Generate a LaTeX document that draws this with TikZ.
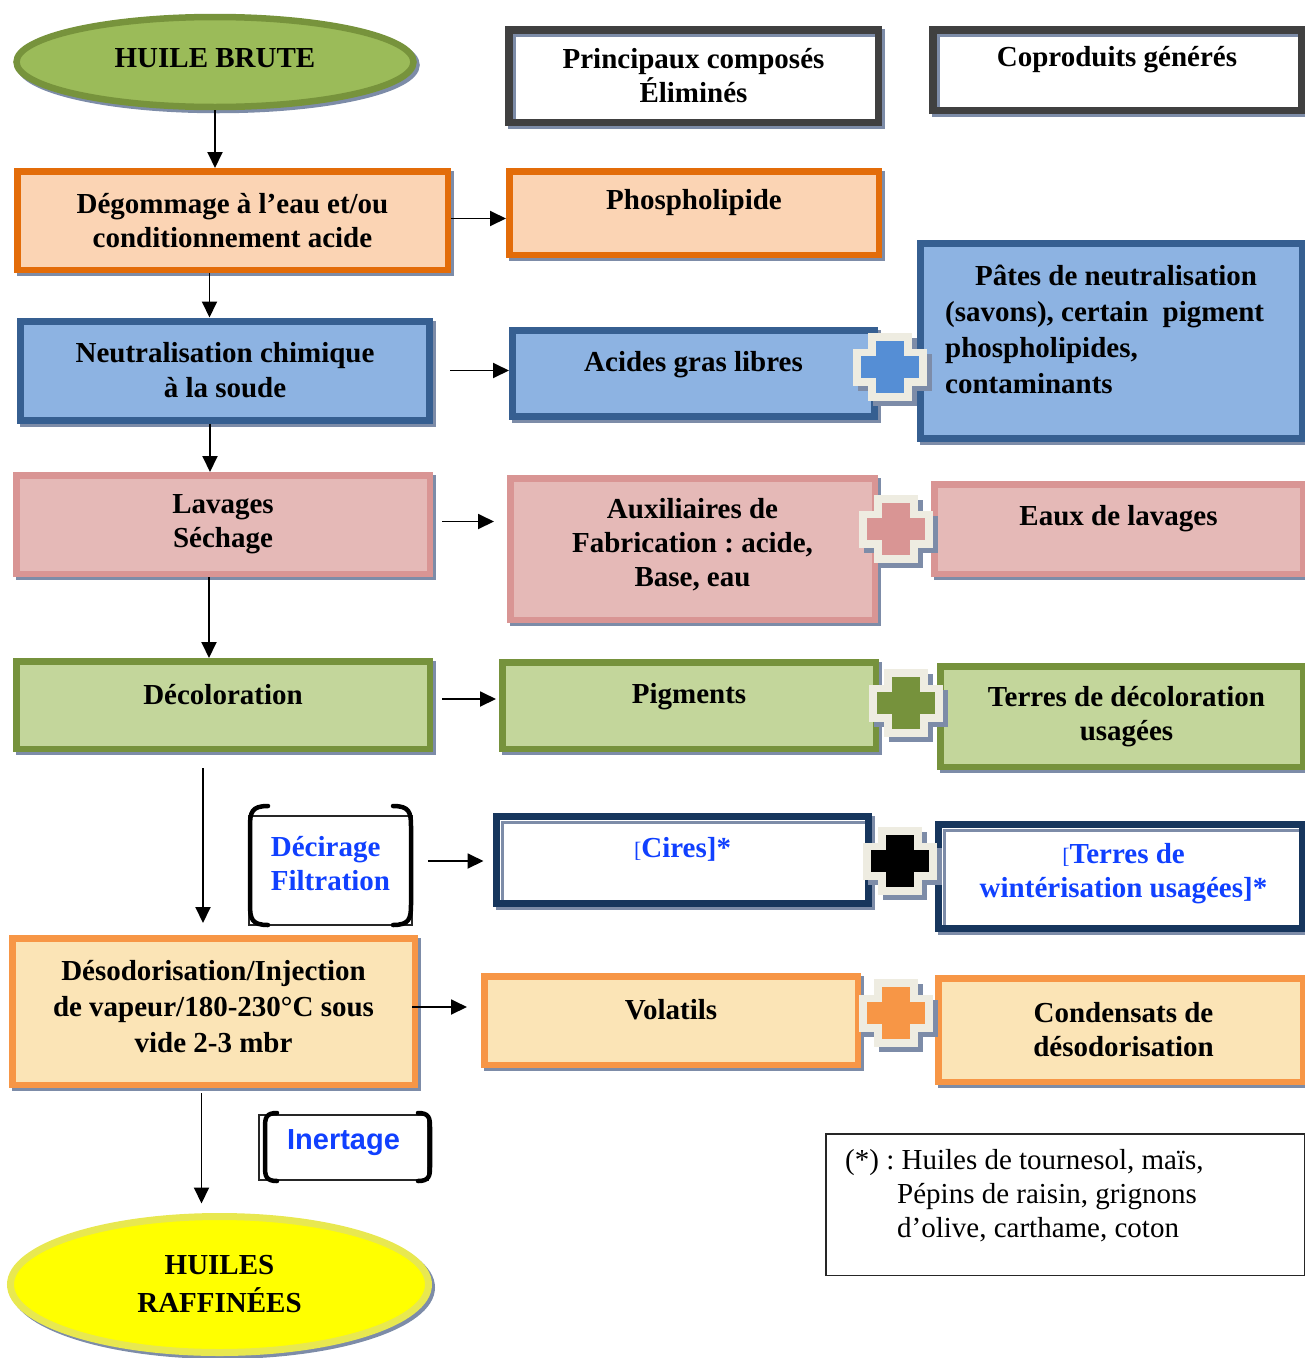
\documentclass[tikz,border=0pt]{standalone}
\usepackage{fontspec}
\setmainfont{Liberation Serif}
\setsansfont{Liberation Sans}
\usetikzlibrary{arrows.meta,shapes.geometric,shadows}
\frenchspacing
\definecolor{shadowc}{RGB}{125,140,168}
\definecolor{orfill}{HTML}{FBD4B4}
\definecolor{orline}{HTML}{E36C09}
\definecolor{blfill}{HTML}{8DB3E2}
\definecolor{blline}{HTML}{365F91}
\definecolor{pkfill}{HTML}{E5B9B7}
\definecolor{pkline}{HTML}{D99594}
\definecolor{grfill}{HTML}{C3D69B}
\definecolor{grline}{HTML}{76923C}
\definecolor{ylfill}{HTML}{FBE4B6}
\definecolor{ylline}{HTML}{F79646}
\definecolor{navy}{HTML}{17365D}
\definecolor{hdrline}{HTML}{404040}
\definecolor{elgfill}{HTML}{9BBB59}
\definecolor{elgline}{HTML}{77933C}
\definecolor{elyfill}{HTML}{FFFF00}
\definecolor{elyline}{RGB}{232,232,80}
\definecolor{plcream}{HTML}{EEECE1}
\definecolor{plblue}{HTML}{558ED5}
\definecolor{plorange}{HTML}{F79646}
\definecolor{txtblue}{RGB}{16,64,255}
\newcommand\plusmark[3]{%
  \begin{scope}[shift={(#1,#2)}]
    \fill[shadowc] (-32,-13.5) rectangle (42,23.5);
    \fill[shadowc] (-17,-29) rectangle (27,39);
    \fill[plcream] (-37,-18.5) rectangle (37,18.5);
    \fill[plcream] (-22,-34) rectangle (22,34);
    \fill[#3] (-29,-11) rectangle (29,11);
    \fill[#3] (-14,-26) rectangle (14,26);
  \end{scope}}
\newcommand\smallbr[1]{{\mdseries\fontsize{22pt}{22pt}\selectfont#1}}
\tikzset{
  bft/.style={font=\fontsize{29pt}{34pt}\selectfont\bfseries, align=center, inner sep=0pt},
  shad/.style={drop shadow={shadow xshift=3pt,shadow yshift=-3pt,fill=shadowc,draw=shadowc,line width=#1,opacity=1}},
  innershade/.style={path picture={\draw[shadowc,line width=3pt] ([xshift=5.5pt]path picture bounding box.south west) |- ([yshift=-5.5pt]path picture bounding box.north east);}},
  boxbase/.style={rectangle, inner sep=0pt, bft},
  obox/.style={boxbase, fill=orfill, draw=orline, line width=6.5pt, shad=6.5pt},
  bbox/.style={boxbase, fill=blfill, draw=blline, line width=7pt, shad=7pt},
  pbox/.style={boxbase, fill=pkfill, draw=pkline, line width=6.5pt, shad=6.5pt},
  gbox/.style={boxbase, fill=grfill, draw=grline, line width=6.5pt, shad=6.5pt},
  ybox/.style={boxbase, fill=ylfill, draw=ylline, line width=6.5pt, shad=6.5pt},
  nbox/.style={boxbase, fill=white, draw=navy, line width=7pt, shad=7pt, innershade},
  hbox/.style={boxbase, fill=white, draw=hdrline, line width=7.5pt, shad=7.5pt, innershade},
  thinbox/.style={rectangle, draw=black!85, line width=1.5pt, fill=white, inner sep=0pt},
  ell/.style={ellipse, inner sep=0pt, bft},
  brk/.style={line width=4.5pt, line cap=round},
  arr/.style={line width=1.9pt, -{Triangle[length=16pt,width=15pt]}},
  bluetxt/.style={bft, text=txtblue}
}
\begin{document}
\begin{tikzpicture}[x=1pt,y=-1pt]
\useasboundingbox (0,0) rectangle (1305,1358);

% ---- ellipses
\node[ell, fill=elgfill, draw=elgline, line width=6.5pt, shad=6.5pt, minimum width=397, minimum height=90] (brute) at (215,62) {};
\node[bft] (brutet) at ([yshift=3.5pt]brute.center) {HUILE BRUTE};
\node[ell, fill=elyfill, draw=elyline, line width=7pt, shad=7pt, minimum width=418, minimum height=136, font=\fontsize{29pt}{38pt}\selectfont\bfseries] (raff) at (219.5,1284.5) {HUILES\\RAFFINÉES};

% ---- headers
\node[hbox, minimum width=369.5, minimum height=92.5] (hdr1) at (693.5,76) {Principaux composés\\Éliminés};
\node[hbox, minimum width=368.5, minimum height=80.5] (hdr2) at (1117,70) {};
\node[bft] (hdr2t) at ([yshift=10pt]hdr2.center) {Coproduits générés};

% ---- left column
\node[obox, minimum width=430.5, minimum height=98.5] (degom) at (232.5,220.5) {Dégommage à l’eau et/ou\\conditionnement acide};
\node[bbox, minimum width=409, minimum height=99, font=\fontsize{29pt}{35pt}\selectfont\bfseries] (neutral) at (225,370.5) {Neutralisation chimique\\à la soude};
\node[pbox, minimum width=413.5, minimum height=98.5] (lavages) at (223,524.5) {Lavages\\Séchage};
\node[gbox, minimum width=413.5, minimum height=87.5] (decol) at (223,705) {};
\node[bft] (decolt) at ([yshift=10pt]decol.center) {Décoloration};
\node[thinbox, minimum width=163, minimum height=109] (decir) at (330.5,870.5) {};
\node[bluetxt, align=left] (decirt) at ([yshift=7pt]decir.center) {Décirage\\Filtration};
\node[ybox, minimum width=402.5, minimum height=146.5] (desod) at (213.5,1011.5) {};
\node[bft, font=\fontsize{29pt}{36pt}\selectfont\bfseries] (desodt) at ([yshift=4.5pt]desod.center) {Désodorisation/Injection\\de vapeur/180-230°C sous\\vide 2-3 mbr};
\node[thinbox, minimum width=169, minimum height=65] (inert) at (343.5,1147.5) {};
\node[bft, font=\fontsize{29pt}{34pt}\selectfont\sffamily\bfseries, text=txtblue] (inertt) at ([yshift=4.5pt]inert.center) {Inertage};

% brackets
\draw[brk] (268,806) .. controls (252,806) and (250,812) .. (250,826) -- (250,905) .. controls (250,919) and (252,925) .. (268,925);
\draw[brk] (393,806) .. controls (409,806) and (411,812) .. (411,826) -- (411,905) .. controls (411,919) and (409,925) .. (393,925);
\draw[brk] (277,1113) .. controls (266,1113) and (265,1118) .. (265,1127) -- (265,1167) .. controls (265,1176) and (266,1181) .. (277,1181);
\draw[brk] (418,1113) .. controls (429,1113) and (430,1118) .. (430,1127) -- (430,1167) .. controls (430,1176) and (429,1181) .. (418,1181);

% ---- middle column
\node[obox, minimum width=369.5, minimum height=83.5] (phos) at (694,213) {};
\node[bft] (phost) at ([yshift=10pt]phos.center) {Phospholipide};
\node[bbox, minimum width=362, minimum height=86] (acides) at (693.5,373.5) {};
\node[bft] (acidest) at ([yshift=9pt]acides.center) {Acides gras libres};
\node[pbox, minimum width=364.5, minimum height=141.5] (aux) at (692.5,549) {};
\node[bft] (auxt) at ([yshift=4pt]aux.center) {Auxiliaires de\\Fabrication : acide,\\Base, eau};
\node[gbox, minimum width=373.5, minimum height=86.5] (pigm) at (689,705.5) {};
\node[bft] (pigmt) at ([yshift=9pt]pigm.center) {Pigments};
\node[nbox, minimum width=372, minimum height=87] (cires) at (682.5,860) {};
\node[bluetxt] (cirest) at ([yshift=11pt]cires.center) {\smallbr{[}Cires]*};
\node[ybox, minimum width=373.5, minimum height=88.5] (volat) at (671,1020.5) {};
\node[bft] (volatt) at ([yshift=11pt]volat.center) {Volatils};

% ---- right column
\node[bbox, minimum width=382, minimum height=195] (pates) at (1111.5,341) {};
\node[bft, align=left, anchor=north west, font=\fontsize{29pt}{36pt}\selectfont\bfseries] (patest) at (945,265) {\hspace*{30pt}Pâtes de neutralisation\\(savons), certain\ \ pigment\\phospholipides,\\contaminants};
\node[pbox, minimum width=368.5, minimum height=89.5] (eaux) at (1118.5,529) {};
\node[bft] (eauxt) at ([yshift=10pt]eaux.center) {Eaux de lavages};
\node[gbox, minimum width=362.5, minimum height=100.5] (terdec) at (1121.5,716.5) {};
\node[bft] (terdect) at ([xshift=5pt]terdec.center) {Terres de décoloration\\usagées};
\node[nbox, minimum width=364, minimum height=104] (terwin) at (1120.5,876.5) {};
\node[bluetxt] (terwint) at ([xshift=3pt,yshift=3pt]terwin.center) {\smallbr{[}Terres de\\wintérisation usagées]*};
\node[ybox, minimum width=364.5, minimum height=103.5] (conden) at (1120.5,1030) {};
\node[bft] (condent) at ([xshift=3pt]conden.center) {Condensats de\\désodorisation};

% ---- plus marks
\plusmark{890}{367}{plblue}
\plusmark{896}{529}{pkline}
\plusmark{906}{703}{grline}
\plusmark{900}{861}{black}
\plusmark{896}{1013}{plorange}

% ---- legend
\node[rectangle, draw=black!85, line width=1.5pt, inner sep=0pt, minimum width=478.5, minimum height=141.5] (legend) at (1065,1204.5) {};
\node[anchor=north west, align=left, inner sep=0pt, font=\fontsize{29pt}{34pt}\selectfont] (legendt) at (845,1149) {(*) : Huiles de tournesol, maïs,\\\hspace*{52pt}Pépins de raisin, grignons\\\hspace*{52pt}d’olive, carthame, coton};

% ---- arrows
\draw[arr] (brute.south) -- (brute.south |- degom.north);
\draw[arr] ([yshift=2pt]degom.east) -- ([yshift=2pt]degom.east -| phos.west);
\draw[arr] ([xshift=-23pt]degom.south) -- ([xshift=-23pt]degom.south |- neutral.north);
\draw[arr] ([xshift=17pt]neutral.east) -- (neutral.east -| acides.west);
\draw[arr] ([xshift=-15pt]neutral.south) -- ([xshift=-15pt]neutral.south |- lavages.north);
\draw[arr] ([xshift=9pt,yshift=3pt]lavages.east) -- ([xshift=-13pt,yshift=3pt]lavages.east -| aux.west);
\draw[arr] ([xshift=-14pt]lavages.south) -- ([xshift=-14pt]lavages.south |- decol.north);
\draw[arr] ([xshift=9pt,yshift=6pt]decol.east) -- ([xshift=-3pt,yshift=6pt]decol.east -| pigm.west);
\draw[arr] ([xshift=-20pt,yshift=-16pt]decol.south) -- ([xshift=-20pt,yshift=12pt]decol.south |- desod.north);
\draw[arr] ([xshift=15pt,yshift=9.5pt]decir.east) -- ([xshift=-9.5pt,yshift=9.5pt]decir.east -| cires.west);
\draw[arr] ([xshift=-6pt,yshift=4.5pt]desod.east) -- ([xshift=-14pt,yshift=4.5pt]desod.east -| volat.west);
\draw[arr] ([xshift=-12pt,yshift=-5pt]desod.south) -- ([xshift=-12pt,yshift=9.5pt]desod.south |- raff.north);
\end{tikzpicture}
\end{document}
